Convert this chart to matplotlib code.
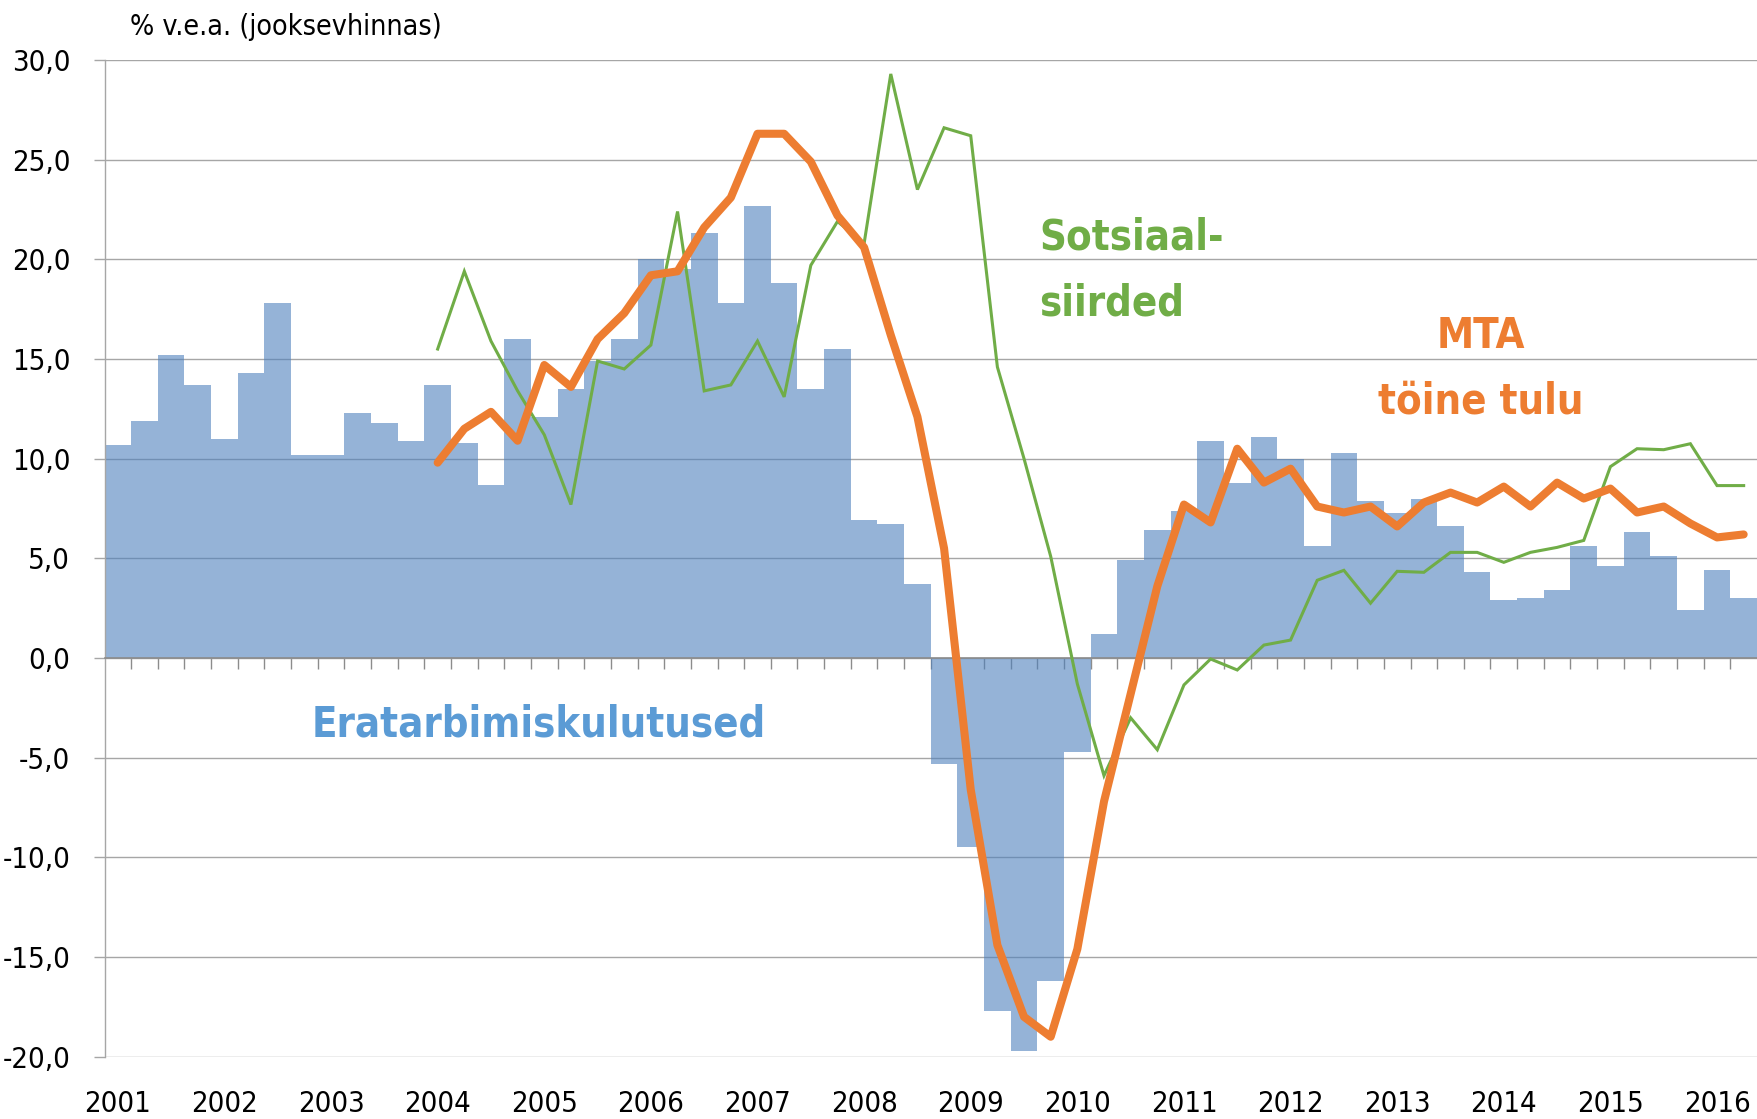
import matplotlib
matplotlib.use("Agg")
import matplotlib.pyplot as plt
import matplotlib.transforms as mtrans
from matplotlib import font_manager
import numpy as np

# ---------------- data ----------------
years = [str(y) for y in range(2001, 2017)]
quarters = [f"{y}Q{q}" for y in range(2001, 2017) for q in range(1, 5)][:62]

# Eratarbimiskulutused (bars), 2001Q1..2016Q2
consumption = [10.7, 11.9, 15.2, 13.7,
               11.0, 14.3, 17.8, 10.2,
               10.2, 12.3, 11.8, 10.9,
               13.7, 10.8, 8.7, 16.0,
               12.1, 13.5, 14.9, 16.0,
               20.0, 19.5, 21.3, 17.8,
               22.7, 18.8, 13.5, 15.5,
               6.9, 6.7, 3.7, -5.3,
               -9.5, -17.7, -19.7, -16.2,
               -4.7, 1.2, 4.9, 6.4,
               7.4, 10.9, 8.8, 11.1,
               10.0, 5.6, 10.3, 7.9,
               7.3, 8.0, 6.6, 4.3,
               2.9, 3.0, 3.4, 5.6,
               4.6, 6.3, 5.1, 2.4,
               4.4, 3.0]

# series starting 2004Q1
line_start = "2004Q1"
wage_income = [9.8, 11.5, 12.35, 10.9, 14.7, 13.6, 16.0, 17.3, 19.2, 19.4,
               21.6, 23.1, 26.3, 26.3, 24.9, 22.2, 20.6, 16.2, 12.1, 5.5,
               -6.6, -14.4, -18.0, -19.0, -14.6, -7.2, -1.8, 3.6, 7.7, 6.8,
               10.5, 8.8, 9.5, 7.6, 7.3, 7.6, 6.6, 7.8, 8.3, 7.8,
               8.6, 7.6, 8.8, 8.0, 8.5, 7.3, 7.6, 6.75, 6.05, 6.2]
social_transfers = [15.5, 19.4, 15.9, 13.4, 11.2, 7.7, 14.9, 14.5, 15.7, 22.4,
                    13.4, 13.7, 15.9, 13.1, 19.7, 21.9, 20.8, 29.3, 23.5, 26.6,
                    26.2, 14.6, 10.0, 5.1, -1.3, -5.9, -3.0, -4.6, -1.35, -0.05,
                    -0.6, 0.65, 0.9, 3.9, 4.4, 2.75, 4.35, 4.3, 5.3, 5.3,
                    4.8, 5.3, 5.55, 5.9, 9.6, 10.5, 10.45, 10.75, 8.65, 8.65]

y_ticks = [30, 25, 20, 15, 10, 5, 0, -5, -10, -15, -20]

# ---------------- style ----------------
cond = [f for f in font_manager.fontManager.ttflist
        if f.stretch in ("condensed", "semi-condensed", "extra-condensed")
        or "Condensed" in f.fname or "Narrow" in f.name]
if cond:
    plt.rcParams["font.family"] = [cond[0].name, "DejaVu Sans"]
else:
    plt.rcParams["font.family"] = ["DejaVu Sans"]
plt.rcParams["font.stretch"] = "condensed"

W, H = 1757, 1119
fig = plt.figure(figsize=(W / 100, H / 100), dpi=100)
ax = fig.add_axes([104.5 / W, (H - 1056.7) / H, 1 - 104.5 / W, (1056.7 - 60) / H])

x = np.arange(len(quarters))
i0 = quarters.index(line_start)
xl = x[i0:i0 + len(wage_income)]

bar_face = (79 / 255, 129 / 255, 189 / 255, 0.6)
ax.bar(x, consumption, width=1.0, color=bar_face, linewidth=0, zorder=1)

ax.plot(xl, social_transfers, color="#70AD47", lw=2.2, zorder=3,
        solid_joinstyle="miter")
ax.plot(xl, wage_income, color="#ED7D31", lw=5.8, zorder=4,
        solid_joinstyle="round", solid_capstyle="round")

ax.set_xlim(-0.5, len(quarters) - 0.5)
ax.set_ylim(-20, 30)

grid_c = "#A6A6A6"
ax.set_yticks(y_ticks)
ax.set_yticklabels([f"{v:.1f}".replace(".", ",") for v in y_ticks])
ax.yaxis.grid(True, color=grid_c, lw=1.0, zorder=0.5)
ax.set_axisbelow(True)
ax.tick_params(axis="y", length=7.7, width=1.0, color=grid_c, pad=17,
               labelsize=21, labelcolor="black")

for s in ["top", "right"]:
    ax.spines[s].set_visible(False)
ax.spines["left"].set_color(grid_c)
ax.spines["left"].set_linewidth(1.0)
ax.spines["bottom"].set_position(("data", 0))
ax.spines["bottom"].set_color("#8C8C8C")
ax.spines["bottom"].set_linewidth(1.2)
ax.spines["bottom"].set_zorder(2.5)

ax.set_xticks([])
ax.set_xticks(np.arange(0.5, len(quarters) - 0.5, 1), minor=True)
ax.tick_params(axis="x", which="minor", length=8, width=1.0,
               color="#8C8C8C", direction="out")

# year labels at Q1 of each year
tr = mtrans.blended_transform_factory(ax.transData, fig.transFigure)
for yr in years:
    qi = quarters.index(f"{yr}Q1")
    fig.text(qi, (H - 1112) / H, yr, transform=tr, ha="center",
             va="baseline", fontsize=21, color="black")

fig.text(130 / W, (H - 35) / H, "% v.e.a. (jooksevhinnas)", ha="left",
         va="baseline", fontsize=20.5, color="black")

ann = dict(fontsize=30, fontweight="bold", va="baseline")
fig.text(539 / W, (H - 736.7) / H, "Eratarbimiskulutused", color="#5B9BD5",
         ha="center", **ann)
fig.text(1039 / W, (H - 250) / H, "Sotsiaal-", color="#70AD47", ha="left", **ann)
fig.text(1039 / W, (H - 315) / H, "siirded", color="#70AD47", ha="left", **ann)
fig.text(1481 / W, (H - 348) / H, "MTA", color="#ED7D31", ha="center", **ann)
fig.text(1481 / W, (H - 413) / H, "töine tulu", color="#ED7D31", ha="center", **ann)

fig.savefig("out.png", dpi=100, facecolor="white")
